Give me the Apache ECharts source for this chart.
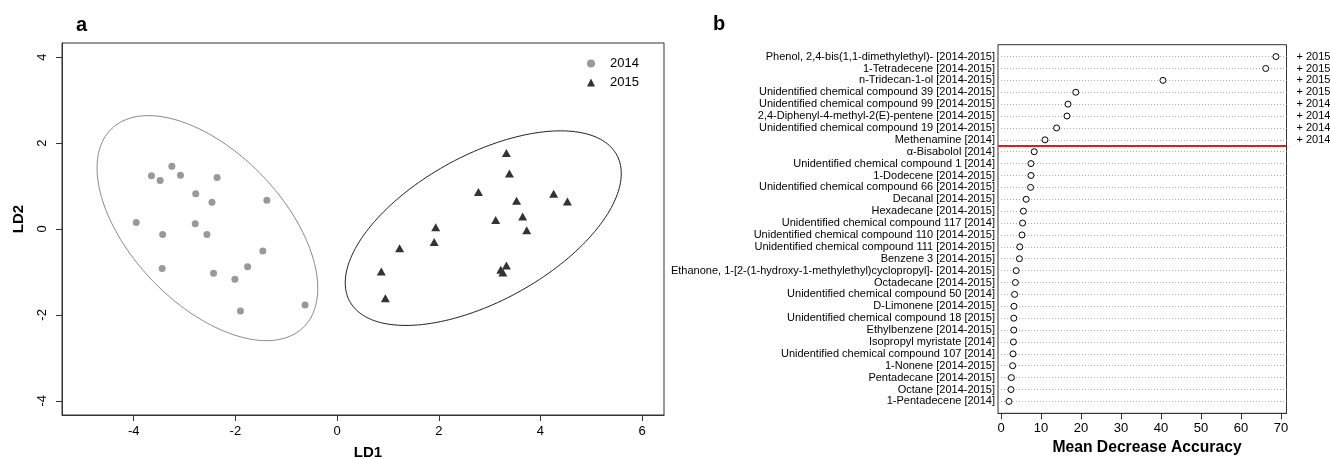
<!DOCTYPE html>
<html><head><meta charset="utf-8">
<script src="https://cdn.jsdelivr.net/npm/echarts@6/dist/echarts.min.js"></script>
<style>html,body{margin:0;padding:0;background:#fff}#c{width:1330px;height:459px}</style>
</head><body><div id="c"></div>
<script>
// ---------- Panel a: LDA scores ----------
const ld2014 = [
  [-3.65, 1.24], [-3.48, 1.13], [-3.25, 1.46], [-3.08, 1.25], [-2.36, 1.20],
  [-2.78, 0.82], [-2.46, 0.62], [-1.38, 0.67], [-3.95, 0.15], [-2.79, 0.12],
  [-3.43, -0.13], [-2.56, -0.13], [-1.46, -0.51], [-3.44, -0.92], [-1.76, -0.88],
  [-2.43, -1.03], [-2.01, -1.17], [-1.90, -1.91], [-0.63, -1.77]
];
const ld2015 = [
  [3.33, 1.77], [3.39, 1.29], [2.78, 0.86], [3.53, 0.66], [4.26, 0.82],
  [4.53, 0.64], [3.12, 0.21], [3.65, 0.29], [3.73, -0.03], [1.94, 0.04],
  [1.91, -0.30], [1.23, -0.45], [0.87, -0.99], [0.95, -1.61], [3.22, -0.95],
  [3.33, -0.85], [3.26, -1.01]
];
// ellipse centre and covariance-like shape [sxx, sxy, syy]
const ellipse2014Center = [-2.55, 0.02];
const ellipse2014Shape = [4.71, -3.04, 6.86];
const ellipse2015Center = [2.875, 0.02];
const ellipse2015Shape = [7.37, 3.45, 5.13];
const ldXTicks = [-4, -2, 0, 2, 4, 6];
const ldYTicks = [-4, -2, 0, 2, 4];
const yearNames = ['2014', '2015'];

// ---------- Panel b: variable importance ----------
const compounds = [
  'Phenol, 2,4-bis(1,1-dimethylethyl)- [2014-2015]',
  '1-Tetradecene [2014-2015]',
  'n-Tridecan-1-ol [2014-2015]',
  'Unidentified chemical compound 39 [2014-2015]',
  'Unidentified chemical compound 99 [2014-2015]',
  '2,4-Diphenyl-4-methyl-2(E)-pentene [2014-2015]',
  'Unidentified chemical compound 19 [2014-2015]',
  'Methenamine [2014]',
  'α-Bisabolol [2014]',
  'Unidentified chemical compound 1 [2014]',
  '1-Dodecene [2014-2015]',
  'Unidentified chemical compound 66 [2014-2015]',
  'Decanal [2014-2015]',
  'Hexadecane [2014-2015]',
  'Unidentified chemical compound 117 [2014]',
  'Unidentified chemical compound 110 [2014-2015]',
  'Unidentified chemical compound 111 [2014-2015]',
  'Benzene 3 [2014-2015]',
  'Ethanone, 1-[2-(1-hydroxy-1-methylethyl)cyclopropyl]- [2014-2015]',
  'Octadecane [2014-2015]',
  'Unidentified chemical compound 50 [2014]',
  'D-Limonene [2014-2015]',
  'Unidentified chemical compound 18 [2015]',
  'Ethylbenzene [2014-2015]',
  'Isopropyl myristate [2014]',
  'Unidentified chemical compound 107 [2014]',
  '1-Nonene [2014-2015]',
  'Pentadecane [2014-2015]',
  'Octane [2014-2015]',
  '1-Pentadecene [2014]'
];
const meanDecreaseAccuracy = [
  68.75, 66.2, 40.5, 18.7, 16.75, 16.5, 13.9, 11.0, 8.3, 7.5,
  7.5, 7.4, 6.3, 5.6, 5.4, 5.25, 4.7, 4.6, 3.8, 3.6,
  3.4, 3.25, 3.2, 3.2, 3.1, 3.0, 2.9, 2.6, 2.5, 2.0
];
const selectedYear = ['+ 2015', '+ 2015', '+ 2015', '+ 2015', '+ 2014', '+ 2014', '+ 2014', '+ 2014'];
const cutoffBetweenRows = 8.5;
const mdaTicks = [0, 10, 20, 30, 40, 50, 60, 70];

function ellipsePoints(c, s, n) {
  const a = Math.sqrt(s[0]);
  const b = s[1] / a;
  const d = Math.sqrt(s[2] - b * b);
  const pts = [];
  for (let i = 0; i <= n; i++) {
    const t = 2 * Math.PI * i / n;
    pts.push([c[0] + a * Math.cos(t), c[1] + b * Math.cos(t) + d * Math.sin(t)]);
  }
  return pts;
}

const FONT = '"Liberation Sans", Arial, Helvetica, sans-serif';
const chart = echarts.init(document.getElementById('c'), null, {renderer: 'canvas'});

const tickStyle = {color: '#333', width: 1};
const lineStyle = {color: '#333', width: 1};
const option = {
  animation: false,
  backgroundColor: '#fff',
  textStyle: {fontFamily: FONT, color: '#000'},
  title: [
    {text: 'a', left: 71, top: 10, textStyle: {fontFamily: FONT, fontWeight: 'bold', fontSize: 20, color: '#000'}},
    {text: 'b', left: 708, top: 9, textStyle: {fontFamily: FONT, fontWeight: 'bold', fontSize: 20, color: '#000'}}
  ],
  graphic: [
    {type: 'text', x: 368, y: 453,
      style: {text: 'LD1', font: 'bold 15px ' + FONT, fill: '#000', align: 'center', verticalAlign: 'middle'}},
    {type: 'text', x: 19, y: 219, rotation: Math.PI / 2,
      style: {text: 'LD2', font: 'bold 15px ' + FONT, fill: '#000', align: 'center', verticalAlign: 'middle'}},
    {type: 'text', x: 1147, y: 448,
      style: {text: 'Mean Decrease Accuracy', font: 'bold 15.7px ' + FONT, fill: '#000', align: 'center', verticalAlign: 'middle'}}
  ],
  legend: {
    left: 582, top: 52, orient: 'vertical', itemWidth: 8, itemHeight: 8, itemGap: 6,
    textStyle: {fontFamily: FONT, fontSize: 13, color: '#000', padding: [0, 0, 0, 10]},
    data: [{name: yearNames[0], icon: 'circle'}, {name: yearNames[1], icon: 'triangle'}]
  },
  grid: [
    {left: 62, top: 43, width: 602, height: 372, show: true, borderColor: '#333', borderWidth: 1,
      backgroundColor: 'transparent', containLabel: false, outerBoundsMode: 'none'},
    {left: 998, top: 44.7, width: 288.5, height: 368.6, show: true, borderColor: '#333', borderWidth: 1,
      backgroundColor: 'transparent', containLabel: false, outerBoundsMode: 'none'}
  ],
  xAxis: [
    {gridIndex: 0, type: 'value', min: -5.41, max: 6.43, position: 'bottom',
      axisLine: {show: true, onZero: false, lineStyle: lineStyle}, splitLine: {show: false},
      axisTick: {show: true, inside: false, length: 6, lineStyle: tickStyle, customValues: ldXTicks},
      axisLabel: {fontSize: 13, color: '#000', margin: 10, customValues: ldXTicks, fontFamily: FONT}},
    {gridIndex: 1, type: 'value', min: -0.75, max: 71.4, position: 'bottom',
      axisLine: {show: true, onZero: false, lineStyle: lineStyle}, splitLine: {show: false},
      axisTick: {show: true, inside: false, length: 6, lineStyle: tickStyle, customValues: mdaTicks},
      axisLabel: {fontSize: 13, color: '#000', margin: 9, customValues: mdaTicks, fontFamily: FONT}}
  ],
  yAxis: [
    {gridIndex: 0, type: 'value', min: -4.33, max: 4.33, position: 'left',
      axisLine: {show: true, onZero: false, lineStyle: lineStyle}, splitLine: {show: false},
      axisTick: {show: true, inside: false, length: 6, lineStyle: tickStyle, customValues: ldYTicks},
      axisLabel: {fontSize: 13, color: '#000', margin: 13, rotate: 90, customValues: ldYTicks, fontFamily: FONT}},
    {gridIndex: 1, type: 'value', min: 0, max: 31, interval: 1, inverse: true, position: 'left',
      axisLine: {show: false, onZero: false}, axisTick: {show: false},
      splitLine: {show: true, showMinLine: false, showMaxLine: false, lineStyle: {color: '#aaa', type: [1, 2], width: 1}},
      axisLabel: {fontSize: 11, color: '#000', margin: 3, fontFamily: FONT,
        formatter: v => compounds[v - 1] || ''}},
    {gridIndex: 1, type: 'value', min: 0, max: 31, interval: 1, inverse: true, position: 'right',
      axisLine: {show: false, onZero: false}, axisTick: {show: false}, splitLine: {show: false},
      axisLabel: {fontSize: 11, color: '#000', margin: 10, fontFamily: FONT,
        formatter: v => selectedYear[v - 1] || ''}}
  ],
  series: [
    {name: 'ell2014', type: 'line', xAxisIndex: 0, yAxisIndex: 0, showSymbol: false, symbol: 'none',
      data: ellipsePoints(ellipse2014Center, ellipse2014Shape, 180),
      lineStyle: {color: '#8a8a8a', width: 1}, silent: true, z: 1},
    {name: 'ell2015', type: 'line', xAxisIndex: 0, yAxisIndex: 0, showSymbol: false, symbol: 'none',
      data: ellipsePoints(ellipse2015Center, ellipse2015Shape, 180),
      lineStyle: {color: '#222', width: 1}, silent: true, z: 1},
    {name: yearNames[0], type: 'scatter', xAxisIndex: 0, yAxisIndex: 0, symbol: 'circle', symbolSize: 7,
      itemStyle: {color: '#999', opacity: 1}, data: ld2014, z: 3},
    {name: yearNames[1], type: 'scatter', xAxisIndex: 0, yAxisIndex: 0, symbol: 'triangle', symbolSize: [9, 8],
      itemStyle: {color: '#333', opacity: 1}, data: ld2015, z: 3},
    {name: 'MDA', type: 'scatter', xAxisIndex: 1, yAxisIndex: 1, symbol: 'circle', symbolSize: 6,
      itemStyle: {color: '#fff', borderColor: '#000', borderWidth: 1, opacity: 1},
      data: meanDecreaseAccuracy.map((v, i) => [v, i + 1]), z: 3,
      markLine: {silent: true, symbol: ['none', 'none'], label: {show: false},
        lineStyle: {color: '#e31a1c', width: 2, type: 'solid'},
        data: [{yAxis: cutoffBetweenRows}]}}
  ]
};
chart.setOption(option);
</script></body></html>
